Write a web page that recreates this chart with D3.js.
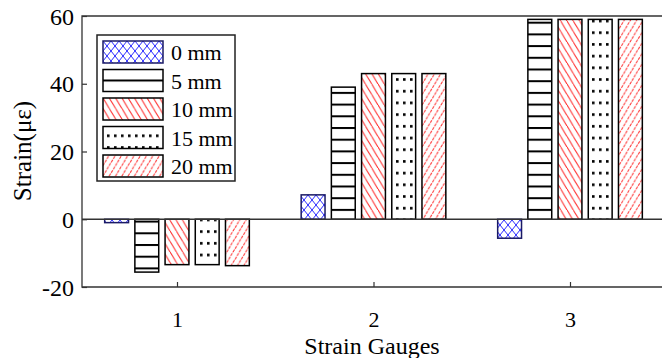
<!DOCTYPE html>
<html lang="en">
<head>
    <meta charset="UTF-8">
    <title>Strain Gauges</title>
    <script src="https://d3js.org/d3.v7.min.js"></script>
    <style>
        body { margin: 0; background: white; }
        svg text { font-family: "Liberation Serif", "DejaVu Serif", serif; fill: black; }
    </style>
</head>
<body>
<script>
    const width = 662;
    const height = 358;

    const gauges = [1, 2, 3];
    const series = ['0 mm', '5 mm', '10 mm', '15 mm', '20 mm'];
    const strain0  = [-1.0, 7.2, -5.6];
    const strain5  = [-15.6, 39.0, 59.0];
    const strain10 = [-13.4, 43.0, 59.0];
    const strain15 = [-13.4, 43.0, 59.0];
    const strain20 = [-13.7, 43.0, 59.0];
    const yTicks = [-20, 0, 20, 40, 60];

    const allValues = [strain0, strain5, strain10, strain15, strain20];
    const patternIds = ['hatch0', 'hatch5', 'hatch10', 'hatch15', 'hatch20'];

    const bars = [];
    series.forEach((s, i) => {
        gauges.forEach((g, j) => bars.push({series: s, idx: i, gauge: g, value: allValues[i][j]}));
    });

    const x = d3.scaleLinear().domain([1, 3]).range([177, 570]);
    const xIn = d3.scaleBand().domain(series).range([-75.5, 75.5]).paddingInner(0.21).paddingOuter(0.105);
    const y = d3.scaleLinear().domain([-20, 60]).range([287, 16]);

    const left = 82;
    const right = 662;
    const serif = '"Liberation Serif", "DejaVu Serif", serif';

    const svg = d3.select("body").append("svg").attr("width", width).attr("height", height)
        .style("font-family", serif);
    const defs = svg.append("defs");

    // 0 mm: blue cross hatch
    const p0 = defs.append("pattern").attr("id", "hatch0").attr("patternUnits", "userSpaceOnUse")
        .attr("width", 8).attr("height", 10);
    p0.append("rect").attr("width", 8).attr("height", 10).attr("fill", "white");
    p0.append("path").attr("d", "M0,0L8,10M0,10L8,0")
        .attr("stroke", "#2a2aff").attr("stroke-width", 1).attr("fill", "none");

    // 5 mm: black horizontal lines
    const p5 = defs.append("pattern").attr("id", "hatch5").attr("patternUnits", "userSpaceOnUse")
        .attr("width", 10).attr("height", 11.7).attr("y", 10);
    p5.append("rect").attr("width", 10).attr("height", 11.7).attr("fill", "white");
    p5.append("rect").attr("x", 0).attr("y", 0).attr("width", 10).attr("height", 2).attr("fill", "black");

    // 10 mm: red "\" lines
    const p10 = defs.append("pattern").attr("id", "hatch10").attr("patternUnits", "userSpaceOnUse")
        .attr("width", 6.3).attr("height", 10.5);
    p10.append("rect").attr("width", 6.3).attr("height", 10.5).attr("fill", "white");
    p10.append("path").attr("d", "M-6.3,-10.5L12.6,21M0,-10.5L6.3,0M-6.3,0L0,10.5")
        .attr("stroke", "#ff2020").attr("stroke-width", 1);

    // 15 mm: black dots
    const p15 = defs.append("pattern").attr("id", "hatch15").attr("patternUnits", "userSpaceOnUse")
        .attr("width", 7).attr("height", 11.7).attr("x", 2).attr("y", 4);
    p15.append("rect").attr("width", 7).attr("height", 11.7).attr("fill", "white");
    p15.append("rect").attr("x", 2).attr("y", 4).attr("width", 2.6).attr("height", 2.6).attr("fill", "black");

    // 20 mm: red "/" lines
    const p20 = defs.append("pattern").attr("id", "hatch20").attr("patternUnits", "userSpaceOnUse")
        .attr("width", 6.3).attr("height", 10.5);
    p20.append("rect").attr("width", 6.3).attr("height", 10.5).attr("fill", "white");
    p20.append("path").attr("d", "M-6.3,21L12.6,-10.5M0,21L12.6,0M-6.3,10.5L6.3,-10.5")
        .attr("stroke", "#ff2a2a").attr("stroke-width", 1).attr("stroke-dasharray", "3,1");

    // bars
    svg.append("g").selectAll("rect")
        .data(bars).enter()
        .append("rect")
        .attr("x", d => x(d.gauge) + xIn(d.series))
        .attr("width", xIn.bandwidth())
        .attr("y", d => y(Math.max(0, d.value)))
        .attr("height", d => Math.abs(y(d.value) - y(0)))
        .attr("fill", d => `url(#${patternIds[d.idx]})`)
        .attr("stroke", d => d.idx === 0 ? "#1a1a66" : "black")
        .attr("stroke-width", 1.5);

    // baseline at zero
    svg.append("line").attr("x1", left).attr("x2", right).attr("y1", y(0)).attr("y2", y(0))
        .attr("stroke", "#333").attr("stroke-width", 1.5);

    // axes box
    svg.append("path").attr("d", `M${right},${y(60)}H${left}V${y(-20)}H${right}`)
        .attr("fill", "none").attr("stroke", "#333").attr("stroke-width", 1.3);

    // y ticks
    const yAxis = svg.append("g").attr("transform", `translate(${left},0)`)
        .call(d3.axisRight(y).tickValues(yTicks).tickSize(5).tickFormat(d => String(d)));
    yAxis.attr("font-family", null);
    yAxis.select(".domain").remove();
    yAxis.selectAll("line").attr("stroke", "#333").attr("stroke-width", 1.2);
    yAxis.selectAll("text").attr("x", -8).attr("dy", "0.34em").attr("text-anchor", "end")
        .style("font-family", serif).style("font-size", "24px").attr("fill", "black");

    // x ticks
    const xAxis = svg.append("g").attr("transform", `translate(0,${y(-20)})`)
        .call(d3.axisTop(x).tickValues(gauges).tickSize(5).tickFormat(d => String(d)));
    xAxis.attr("font-family", null);
    xAxis.select(".domain").remove();
    xAxis.selectAll("line").attr("stroke", "#333").attr("stroke-width", 1.2);
    xAxis.selectAll("text").attr("y", 40).attr("dy", 0)
        .style("font-family", serif).style("font-size", "22px").attr("fill", "black");

    // axis titles
    svg.append("text").attr("x", 372).attr("y", 354).attr("text-anchor", "middle")
        .style("font-family", serif).style("font-size", "24px").text("Strain Gauges");
    svg.append("text").attr("transform", "translate(31,151) rotate(-90)").attr("text-anchor", "middle")
        .style("font-family", serif).style("font-size", "25px").text("Strain(με)");

    // legend
    const legend = svg.append("g");
    legend.append("rect").attr("x", 97).attr("y", 35).attr("width", 138).attr("height", 146)
        .attr("fill", "white").attr("stroke", "#222").attr("stroke-width", 1.5);
    const items = legend.selectAll("g.item").data(series).enter().append("g")
        .attr("transform", (d, i) => `translate(103,${41 + i * 28.5})`);
    items.append("rect").attr("width", 60).attr("height", 22)
        .attr("fill", (d, i) => `url(#${patternIds[i]})`)
        .attr("stroke", (d, i) => i === 0 ? "#1a1a66" : "black").attr("stroke-width", 1.5);
    items.append("text").attr("x", 68).attr("y", 19)
        .style("font-family", serif).style("font-size", "22px").text(d => d);
</script>
</body>
</html>
